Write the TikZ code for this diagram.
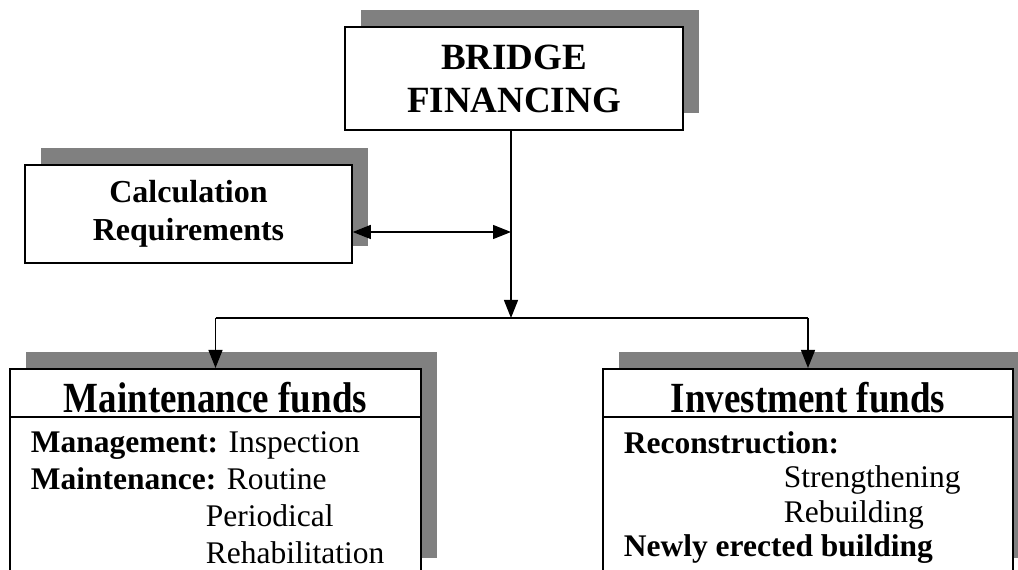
\documentclass[tikz,border=0pt]{standalone}
\usepackage{fontspec}
\setmainfont{Liberation Serif}
\newfontfamily\fundfont[FakeStretch=0.86]{Liberation Serif}
\usetikzlibrary{arrows.meta, positioning, shadows}
\definecolor{shadowgray}{RGB}{128,128,128}
\tikzset{
  box/.style={draw, line width=1.6pt, fill=white,
    drop shadow={shadow xshift=16pt, shadow yshift=17pt, fill=shadowgray, opacity=1}},
  fundtitle/.style={draw, line width=1.6pt, font=\fontsize{43}{46}\fundfont\bfseries,
    text height=40pt, text depth=0pt, inner ysep=0pt},
  fundlist/.style={anchor=north west, align=left, inner sep=0pt},
  tip/.style={-{Triangle[width=14pt,length=18pt]}},
}

\begin{document}
\begin{tikzpicture}[x=1pt, y=1pt, line width=1.3pt]
  \useasboundingbox (0,0) rectangle (1018,570);
  \clip (0,0) rectangle (1018,570);
  \node[box, minimum width=338pt, minimum height=103pt, align=center,
        font=\fontsize{37}{43}\selectfont\bfseries](bridge) at (514,491.5){BRIDGE\\FINANCING};
  \node[box, minimum width=327pt, minimum height=98pt, align=center,
        font=\fontsize{32}{38}\selectfont\bfseries](calc) at (188.5,356){Calculation\\Requirements};
  % lower boxes: one shadowed frame, title drawn over its top
  \node[box, minimum width=411pt, minimum height=206pt, anchor=north](maintbody) at (215.5,202){};
  \node[fundtitle, minimum width=411pt, minimum height=48pt, anchor=north](maint) at (maintbody.north){Maintenance funds};
  \node[box, minimum width=410pt, minimum height=206pt, anchor=north](investbody) at (808,202){};
  \node[fundtitle, minimum width=410pt, minimum height=48pt, anchor=north](invest) at (investbody.north){Investment funds};
  \node[fundlist, font=\fontsize{31.5}{37}\selectfont](maintlist) at ([shift={(21,-13)}]maint.south west)
    {\textbf{Management:} Inspection\\\textbf{Maintenance:} Routine\\\hspace*{175pt}Periodical\\\hspace*{175pt}Rehabilitation};
  \node[fundlist, font=\fontsize{31.5}{34.5}\selectfont](investlist) at ([shift={(21,-13)}]invest.south west)
    {\textbf{Reconstruction:}\\\hspace*{160pt}Strengthening\\\hspace*{160pt}Rebuilding\\\textbf{Newly erected building}};
  % connectors
  \coordinate(meet) at (511,338);
  \coordinate(split) at (511,252);
  \draw[tip](split |- bridge.south)--(split);
  \draw[{Triangle[width=14pt,length=18pt]}-{Triangle[width=14pt,length=18pt]}](calc.east |- meet)--(meet);
  \draw(split -| maint.north)--(split -| invest.north);
  \draw[tip](split -| maint.north)--(maint.north);
  \draw[tip](split -| invest.north)--(invest.north);
\end{tikzpicture}
\end{document}
